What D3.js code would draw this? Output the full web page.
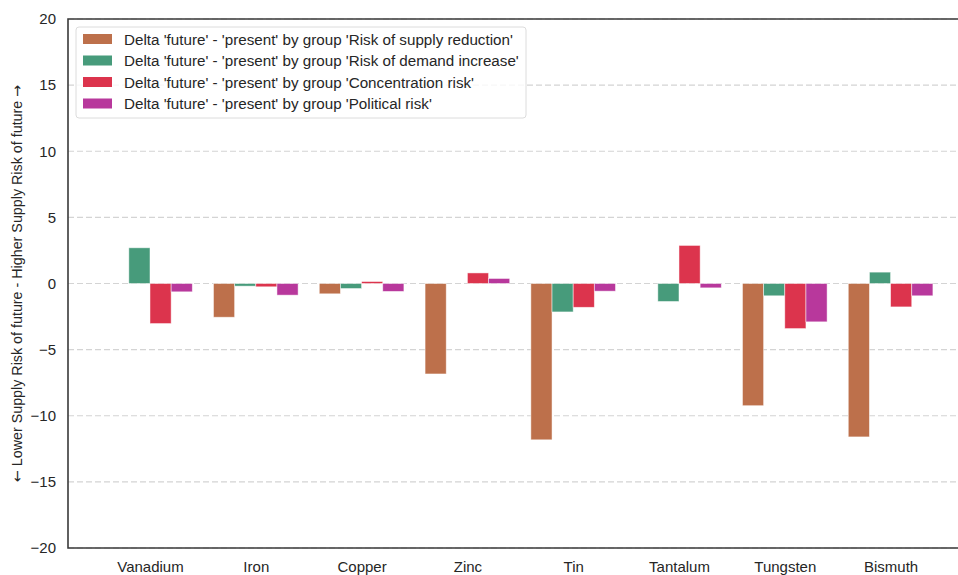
<!DOCTYPE html>
<html>
<head>
<meta charset="utf-8">
<script src="https://cdn.jsdelivr.net/npm/d3@7"></script>
<style>
body { margin: 0; background: #fff; }
text { font-family: "Liberation Sans", Arial, sans-serif; fill: #262626; }
</style>
</head>
<body>
<script>
var width = 958,
    height = 575;
var margin = {left: 68, top: 19, right: -4, bottom: 27};

var metals = ["Vanadium", "Iron", "Copper", "Zinc", "Tin", "Tantalum", "Tungsten", "Bismuth"];
var groups = ["Risk of supply reduction", "Risk of demand increase", "Concentration risk", "Political risk"];
var colors = ["#bd704b", "#479b7b", "#dc344d", "#b8389c"];
// one array per group, same order as metals
var supplyReduction = [0, -2.55, -0.78, -6.84, -11.82, 0, -9.24, -11.6];
var demandIncrease = [2.7, -0.2, -0.38, 0, -2.15, -1.36, -0.93, 0.86];
var concentration = [-3.03, -0.25, 0.15, 0.8, -1.8, 2.88, -3.41, -1.77];
var political = [-0.63, -0.88, -0.6, 0.38, -0.58, -0.33, -2.9, -0.93];
var series = [supplyReduction, demandIncrease, concentration, political];
var yTicks = [-20, -15, -10, -5, 0, 5, 10, 15, 20];

var svg = d3.select("body").append("svg")
    .attr("width", width)
    .attr("height", height);

var plotH = height - margin.top - margin.bottom;

// x positions in data units, frame is cropped on the right
var x = d3.scaleLinear()
    .domain([-0.775, 7.675])
    .range([margin.left, width - margin.right]);
var y = d3.scaleLinear()
    .domain([-20, 20])
    .range([height - margin.bottom, margin.top]);

var inner = d3.scaleBand()
    .domain(d3.range(groups.length))
    .range([-0.4, 0.4]);

// grid
svg.append("g")
    .selectAll("line")
    .data(yTicks)
    .enter().append("line")
    .attr("x1", margin.left)
    .attr("x2", width)
    .attr("y1", function (d) { return y(d); })
    .attr("y2", function (d) { return y(d); })
    .attr("stroke", "#d4d4d4")
    .attr("stroke-width", 1.2)
    .attr("stroke-dasharray", "6,3");

// bars
series.forEach(function (vals, gi) {
    svg.append("g")
        .selectAll("rect")
        .data(vals)
        .enter().append("rect")
        .attr("x", function (d, i) { return x(i + inner(gi)); })
        .attr("width", x(inner.bandwidth()) - x(0))
        .attr("y", function (d) { return y(Math.max(0, d)); })
        .attr("height", function (d) { return Math.abs(y(d) - y(0)); })
        .attr("fill", colors[gi])
        .attr("stroke", "#fff")
        .attr("stroke-opacity", 0.6)
        .attr("stroke-width", 0.8);
});

// y axis
var yAxis = d3.axisLeft(y)
    .tickValues(yTicks)
    .tickSize(0)
    .tickPadding(12)
    .tickFormat(function (d) { return d < 0 ? "\u2212" + Math.abs(d) : d; });
var gy = svg.append("g")
    .attr("transform", "translate(" + margin.left + ",0)")
    .call(yAxis);
gy.select(".domain").remove();
gy.selectAll("text").style("font-size", "15px").attr("fill", "#262626");

// x axis
var xAxis = d3.axisBottom(x)
    .tickValues(d3.range(metals.length))
    .tickSize(0)
    .tickPadding(13)
    .tickFormat(function (d) { return metals[d]; });
var gx = svg.append("g")
    .attr("transform", "translate(0," + (height - margin.bottom) + ")")
    .call(xAxis);
gx.select(".domain").remove();
gx.selectAll("text").style("font-size", "15px").attr("fill", "#262626");

// spines
svg.append("path")
    .attr("d", "M" + width + "," + y(20) + "H" + margin.left + "V" + y(-20) + "H" + width)
    .attr("fill", "none")
    .attr("stroke", "#3a3a3a")
    .attr("stroke-width", 1.6);

// y label (arrows from DejaVu, they are bigger there)
var ylab = svg.append("text")
    .attr("transform", "translate(22," + (margin.top + plotH / 2) + ") rotate(-90)")
    .attr("text-anchor", "middle")
    .style("font-size", "14.3px");
ylab.append("tspan").style("font-family", "DejaVu Sans").text("\u2190");
ylab.append("tspan").text(" Lower Supply Risk of future - Higher Supply Risk of future ");
ylab.append("tspan").style("font-family", "DejaVu Sans").text("\u2192");

// legend
var lg = svg.append("g").attr("transform", "translate(76,27)");
lg.append("rect")
    .attr("width", 450)
    .attr("height", 91)
    .attr("rx", 3)
    .attr("fill", "#fff")
    .attr("fill-opacity", 0.8)
    .attr("stroke", "#dcdcdc");
groups.forEach(function (g, i) {
    var row = lg.append("g").attr("transform", "translate(7," + (7 + i * 21.5) + ")");
    row.append("rect")
        .attr("width", 29)
        .attr("height", 10)
        .attr("fill", colors[i]);
    row.append("text")
        .attr("x", 41)
        .attr("y", 10.5)
        .style("font-size", "15.2px")
        .text("Delta 'future' - 'present' by group '" + g + "'");
});
</script>
</body>
</html>
